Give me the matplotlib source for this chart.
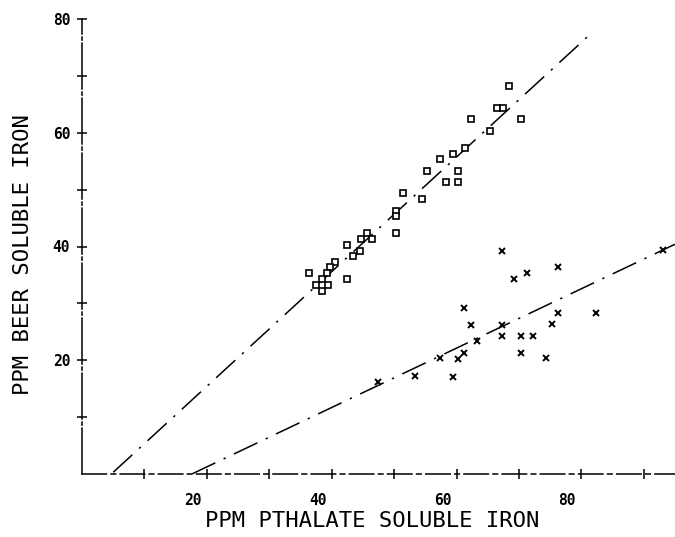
import matplotlib

matplotlib.use("Agg")
import matplotlib.pyplot as plt
from matplotlib.transforms import ScaledTranslation

# beer-soluble vs phthalate-soluble iron (ppm)
SQ_X = [68.4, 66.5, 67.5, 70.4, 62.3, 65.4, 61.4, 59.5, 57.4, 55.3, 60.3,
        58.3, 60.3, 51.4, 54.5, 50.3, 50.3, 50.3, 45.7, 46.5, 44.7, 42.5,
        44.6, 43.4, 40.5, 39.7, 36.4, 39.3, 38.5, 42.5, 37.5, 39.4, 38.5]
SQ_Y = [68.2, 64.3, 64.3, 62.4, 62.4, 60.3, 57.3, 56.2, 55.4, 53.3, 53.3,
        51.3, 51.3, 49.4, 48.3, 46.2, 45.3, 42.4, 42.4, 41.3, 41.3, 40.2,
        39.2, 38.3, 37.3, 36.4, 35.3, 35.3, 34.3, 34.3, 33.2, 33.2, 32.2]

CR_X = [93.1, 67.3, 76.3, 71.3, 69.2, 61.2, 76.3, 82.4, 62.3, 67.3, 75.3,
        63.3, 67.3, 70.4, 72.3, 61.2, 70.4, 57.4, 60.3, 74.4, 53.4, 59.5, 47.4]
CR_Y = [39.4, 39.2, 36.4, 35.3, 34.3, 29.2, 28.3, 28.3, 26.2, 26.2, 26.4,
        23.4, 24.3, 24.3, 24.3, 21.3, 21.3, 20.4, 20.2, 20.4, 17.2, 17.0, 16.2]

# end points of the two fitted lines
FIT_SQ_X = [5.0, 80.9]
FIT_SQ_Y = [0.3, 76.8]
FIT_CR_X = [17.6, 95.0]
FIT_CR_Y = [0.0, 40.4]

X_TICKS = [10, 20, 30, 40, 50, 60, 70, 80, 90]
X_LABELS = ["", "20", "", "40", "", "60", "", "80", ""]
Y_TICKS = [10, 20, 30, 40, 50, 60, 70, 80]
Y_LABELS = ["", "20", "", "40", "", "60", "", "80"]

MONO = "DejaVu Sans Mono"
PLOTTER_DASH = (0, (17, 6, 1.5, 6))

fig = plt.figure(figsize=(6.75, 5.37), dpi=100)
ax = fig.add_axes([82 / 675, 63 / 537, 593 / 675, 455 / 537])

ax.plot(FIT_SQ_X, FIT_SQ_Y, color="black", lw=1.1, ls=PLOTTER_DASH)
ax.plot(FIT_CR_X, FIT_CR_Y, color="black", lw=1.1, ls=PLOTTER_DASH)
ax.plot(SQ_X, SQ_Y, ls="none", marker="s", ms=4.8, mfc="white", mec="black", mew=1.2)
ax.plot(CR_X, CR_Y, ls="none", marker="x", ms=4.8, color="black", mew=1.4)

ax.set_xlim(0, 95.0)
ax.set_ylim(0, 80)

for side in ("top", "right"):
    ax.spines[side].set_visible(False)
ax.spines["left"].set_linestyle((0, (30, 2, 2, 2)))
ax.spines["bottom"].set_linestyle((0, (16, 3, 3, 3)))
for side in ("left", "bottom"):
    ax.spines[side].set_linewidth(1.1)

ax.set_xticks(X_TICKS)
ax.set_xticklabels(X_LABELS)
ax.set_yticks(Y_TICKS)
ax.set_yticklabels(Y_LABELS)
ax.tick_params(direction="inout", length=7, width=1.1, labelsize=10.5, pad=10)
ax.tick_params(axis="y", pad=5)
for lab in ax.get_xticklabels() + ax.get_yticklabels():
    lab.set_fontfamily(MONO)
    lab.set_fontweight("bold")
# the plotter set x labels a little to the left of their ticks
shift = ScaledTranslation(-14 / 100, 0, fig.dpi_scale_trans)
for lab in ax.get_xticklabels():
    lab.set_transform(lab.get_transform() + shift)

fig.text(372 / 675, 1 - 521 / 537, "PPM PTHALATE SOLUBLE IRON", family=MONO,
         fontsize=16, ha="center", va="center")
fig.text(23 / 675, 1 - 255 / 537, "PPM BEER SOLUBLE IRON", family=MONO,
         fontsize=16, ha="center", va="center", rotation=90)

fig.savefig("out.png", dpi=100, facecolor="white")
